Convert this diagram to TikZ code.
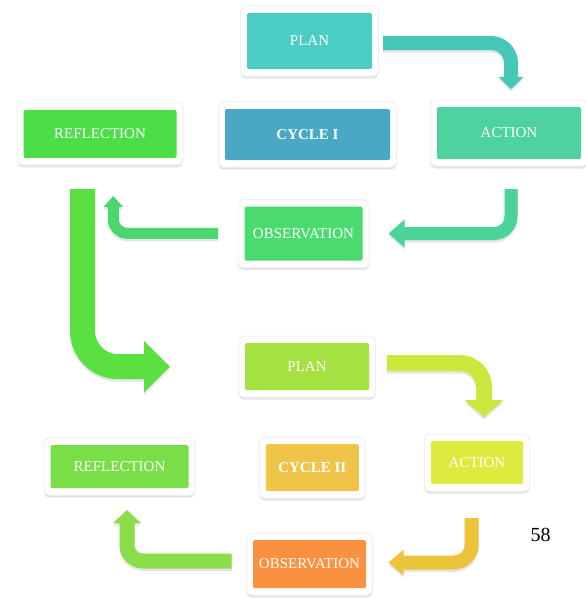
\documentclass[tikz,border=0pt]{standalone}
\usepackage{fontspec}
\setmainfont{Liberation Serif}
\usetikzlibrary{arrows.meta,shadows}
\definecolor{cPlanA}{RGB}{75,205,195}
\definecolor{cCycA}{RGB}{73,168,196}
\definecolor{cActA}{RGB}{78,210,160}
\definecolor{cObsA}{RGB}{75,218,110}
\definecolor{cRefA}{RGB}{75,222,70}
\definecolor{cPlanB}{RGB}{165,226,65}
\definecolor{cActB}{RGB}{222,234,62}
\definecolor{cCycB}{RGB}{240,196,72}
\definecolor{cObsB}{RGB}{250,145,65}
\definecolor{cRefB}{RGB}{122,222,72}
\definecolor{aOne}{RGB}{70,200,185}
\definecolor{aTwo}{RGB}{76,211,152}
\definecolor{aThree}{RGB}{76,214,112}
\definecolor{aFour}{RGB}{90,224,64}
\definecolor{aFive}{RGB}{205,232,60}
\definecolor{aSix}{RGB}{236,196,58}
\definecolor{aSeven}{RGB}{140,222,72}
\newcommand\mybox[7]{%
  \node[frame, minimum width={#4+13}, minimum height={#5+14}] (#1F) at (#2,#3) {};
  \node[box, fill=#6, minimum width=#4, minimum height=#5] (#1) at (#2,#3) {#7};}
\newcommand\myarrow[7]{%
  \draw[conn, black, opacity=0.10, line width=#2, rounded corners=#3, -{Triangle[width=#4,length=#5]}, transform canvas={yshift=-2.5pt}] (#6s) -- (#6c) -- (#6e);
  \draw[conn, #1, line width=#2, rounded corners=#3, -{Triangle[width=#4,length=#5]}] (#6s) -- (#6c) -- (#6e);}
\begin{document}
\begin{tikzpicture}[x=1pt,y=-1pt,
  frame/.style={fill=white, draw=black!6, line width=1pt, rounded corners=5pt, inner sep=0pt,
    drop shadow={shadow xshift=0pt, shadow yshift=-2.5pt, opacity=0.22}},
  box/.style={rounded corners=1.5pt, inner sep=0pt, text=white,
    font=\fontsize{15}{15}\selectfont},
  conn/.style={line cap=butt, line join=round}]
\useasboundingbox (0,0) rectangle (586,598);

% cycle I
\mybox{planA}{309.5}{41}{125}{56}{cPlanA}{PLAN}
\mybox{cycA}{307.5}{134.7}{165}{51}{cCycA}{\bfseries CYCLE I}
\mybox{actA}{509}{133}{144}{52}{cActA}{ACTION}
\mybox{refA}{100}{133.8}{153}{48}{cRefA}{REFLECTION}
\mybox{obsA}{303.5}{233.7}{118}{54}{cObsA}{OBSERVATION}
% cycle II
\mybox{planB}{307}{366.7}{124}{47}{cPlanB}{PLAN}
\mybox{actB}{477}{462.7}{92}{43}{cActB}{ACTION}
\mybox{cycB}{312.3}{467.7}{93}{47}{cCycB}{\bfseries CYCLE II}
\mybox{refB}{119.5}{466.7}{138}{43}{cRefB}{REFLECTION}
\mybox{obsB}{309.5}{564}{113}{48}{cObsB}{OBSERVATION}

\node[font=\fontsize{20}{20}\selectfont] (page) at (540.5,535) {58};

% connector points
\coordinate (a1s) at (383,43);   \coordinate (a1c) at (511,43);    \coordinate (a1e) at (511,89);
\coordinate (a2s) at (511,189);  \coordinate (a2c) at (511,233.5); \coordinate (a2e) at (388.6,233.5);
\coordinate (a3s) at (218,233.3);\coordinate (a3c) at (113.3,233.3);\coordinate (a3e) at (113.3,196);
\coordinate (a4s) at (82.5,189); \coordinate (a4c) at (82.5,366.7);\coordinate (a4e) at (170,366.7);
\coordinate (a5s) at (386.8,363);\coordinate (a5c) at (484,363);   \coordinate (a5e) at (484,417);
\coordinate (a6s) at (471.7,518);\coordinate (a6c) at (471.7,562.5);\coordinate (a6e) at (388.6,562.5);
\coordinate (a7s) at (231.7,561);\coordinate (a7c) at (127,561);   \coordinate (a7e) at (127,510);

\myarrow{aOne}{14pt}{20pt}{24pt}{12pt}{a1}{}
\myarrow{aTwo}{13pt}{17pt}{27pt}{16pt}{a2}{}
\myarrow{aThree}{11pt}{14pt}{19pt}{11pt}{a3}{}
\myarrow{aFour}{25pt}{36pt}{50pt}{26pt}{a4}{}
\myarrow{aFive}{16pt}{24pt}{38pt}{17pt}{a5}{}
\myarrow{aSix}{14pt}{18pt}{25pt}{15pt}{a6}{}
\myarrow{aSeven}{15pt}{16pt}{27pt}{13pt}{a7}{}
\end{tikzpicture}
\end{document}
